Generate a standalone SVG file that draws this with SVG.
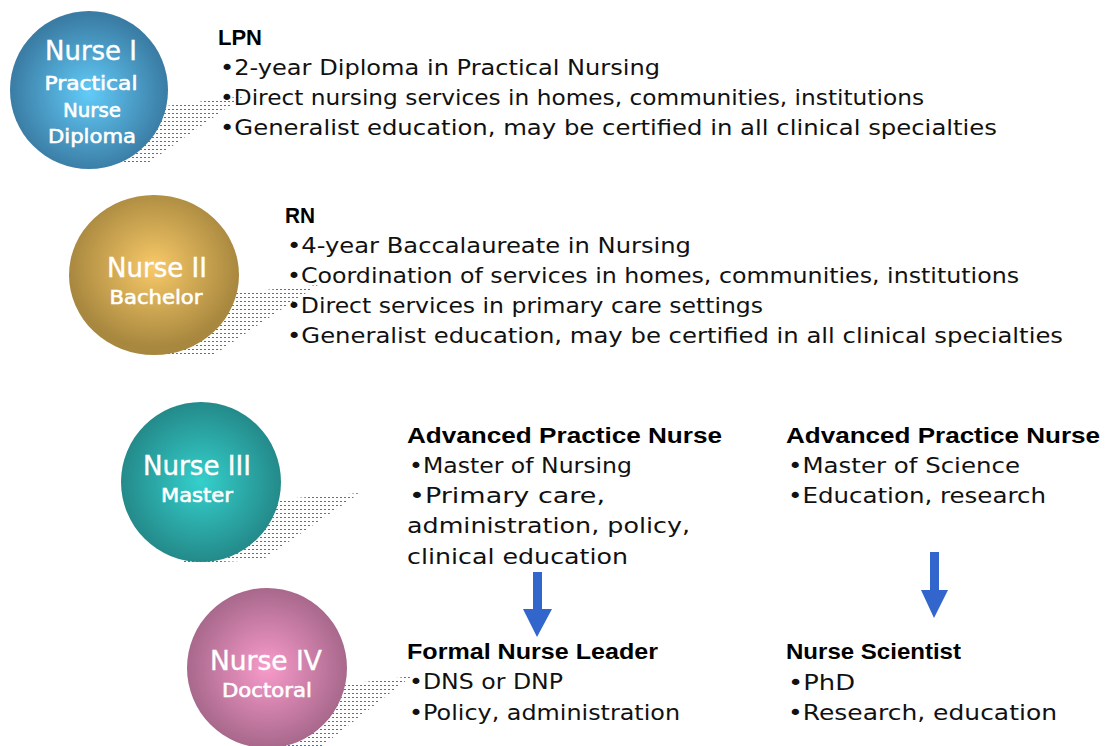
<svg xmlns="http://www.w3.org/2000/svg" width="1116" height="746" viewBox="0 0 1116 746">
<defs>
<radialGradient id="g1" cx="50%" cy="52%" r="50%"><stop offset="0" stop-color="#62cbf8"/><stop offset="1" stop-color="#3a7ca4"/></radialGradient>
<radialGradient id="g2" cx="50%" cy="45%" r="50%"><stop offset="0" stop-color="#f8c968"/><stop offset="1" stop-color="#a8883f"/></radialGradient>
<radialGradient id="g3" cx="50%" cy="50%" r="50%"><stop offset="0" stop-color="#34d0cc"/><stop offset="1" stop-color="#248a8a"/></radialGradient>
<radialGradient id="g4" cx="50%" cy="50%" r="50%"><stop offset="0" stop-color="#f89bca"/><stop offset="1" stop-color="#a8688c"/></radialGradient>
<pattern id="dots" x="0" y="0" width="4" height="4" patternUnits="userSpaceOnUse"><rect x="0" y="1" width="2" height="1" fill="#4a72b8"/></pattern>
</defs>
<style>
.dots{fill:url(#dots)}
.t1{font-family:"DejaVu Sans",sans-serif;font-size:27px;fill:#fff;text-anchor:middle;stroke:#fff;stroke-width:0.4}
.t2{font-family:"DejaVu Sans",sans-serif;font-size:20px;fill:#fff;text-anchor:middle;stroke:#fff;stroke-width:0.6}
.h{font-family:"Liberation Sans",Arial,sans-serif;font-weight:bold;font-size:22px;fill:#000}
.b{font-family:"DejaVu Sans",sans-serif;font-size:21px;fill:#111}
.arrow{fill:#3366cc}
</style>
<rect width="1116" height="746" fill="#fff"/>
<g id="nurse1">
<polygon class="dots" points="150,108 244,96 148,163 120,163"/>
<circle cx="89" cy="90" r="79" fill="url(#g1)"/>
<text class="t1" x="91" y="60" textLength="92" lengthAdjust="spacingAndGlyphs">Nurse I</text>
<text class="t2" x="91" y="90" textLength="93" lengthAdjust="spacingAndGlyphs">Practical</text>
<text class="t2" x="92" y="117" textLength="58" lengthAdjust="spacingAndGlyphs">Nurse</text>
<text class="t2" x="92" y="143" textLength="88" lengthAdjust="spacingAndGlyphs">Diploma</text>
<text class="h" x="218" y="45" textLength="44" lengthAdjust="spacingAndGlyphs">LPN</text>
<text class="b" x="220" y="75" textLength="440" lengthAdjust="spacingAndGlyphs">•2-year Diploma in Practical Nursing</text>
<text class="b" x="220" y="105" textLength="704" lengthAdjust="spacingAndGlyphs">•Direct nursing services in homes, communities, institutions</text>
<text class="b" x="220" y="135" textLength="777" lengthAdjust="spacingAndGlyphs">•Generalist education, may be certified in all clinical specialties</text>
</g>
<g id="nurse2">
<polygon class="dots" points="220,294 318,285 212,356 140,356"/>
<ellipse cx="154" cy="275" rx="85" ry="80" fill="url(#g2)"/>
<text class="t1" x="157" y="277" textLength="100" lengthAdjust="spacingAndGlyphs">Nurse II</text>
<text class="t2" x="156" y="304" textLength="93" lengthAdjust="spacingAndGlyphs">Bachelor</text>
<text class="h" x="285" y="223" textLength="30" lengthAdjust="spacingAndGlyphs">RN</text>
<text class="b" x="287" y="253" textLength="404" lengthAdjust="spacingAndGlyphs">•4-year Baccalaureate in Nursing</text>
<text class="b" x="287" y="283" textLength="732" lengthAdjust="spacingAndGlyphs">•Coordination of services in homes, communities, institutions</text>
<text class="b" x="287" y="313" textLength="476" lengthAdjust="spacingAndGlyphs">•Direct services in primary care settings</text>
<text class="b" x="287" y="343" textLength="776" lengthAdjust="spacingAndGlyphs">•Generalist education, may be certified in all clinical specialties</text>
</g>
<g id="nurse3">
<polygon class="dots" points="270,500 360,493 262,560 180,564"/>
<circle cx="201" cy="482" r="80" fill="url(#g3)"/>
<text class="t1" x="197" y="475" textLength="108" lengthAdjust="spacingAndGlyphs">Nurse III</text>
<text class="t2" x="197" y="502" textLength="72" lengthAdjust="spacingAndGlyphs">Master</text>
<text class="h" x="407" y="443" textLength="315" lengthAdjust="spacingAndGlyphs">Advanced Practice Nurse</text>
<text class="b" x="409" y="473" textLength="223" lengthAdjust="spacingAndGlyphs">•Master of Nursing</text>
<text class="b" x="409" y="503" textLength="196" lengthAdjust="spacingAndGlyphs">•Primary care,</text>
<text class="b" x="407" y="533" textLength="283" lengthAdjust="spacingAndGlyphs">administration, policy,</text>
<text class="b" x="407" y="564" textLength="221" lengthAdjust="spacingAndGlyphs">clinical education</text>
<text class="h" x="786" y="443" textLength="314" lengthAdjust="spacingAndGlyphs">Advanced Practice Nurse</text>
<text class="b" x="788" y="473" textLength="232" lengthAdjust="spacingAndGlyphs">•Master of Science</text>
<text class="b" x="788" y="503" textLength="258" lengthAdjust="spacingAndGlyphs">•Education, research</text>
</g>
<g id="nurse4">
<polygon class="dots" points="340,685 412,676 322,746 270,746"/>
<circle cx="267" cy="668" r="80" fill="url(#g4)"/>
<text class="t1" x="266" y="670" textLength="112" lengthAdjust="spacingAndGlyphs">Nurse IV</text>
<text class="t2" x="267" y="697" textLength="90" lengthAdjust="spacingAndGlyphs">Doctoral</text>
<text class="h" x="407" y="659" textLength="251" lengthAdjust="spacingAndGlyphs">Formal Nurse Leader</text>
<text class="b" x="409" y="689" textLength="154" lengthAdjust="spacingAndGlyphs">•DNS or DNP</text>
<text class="b" x="409" y="720" textLength="271" lengthAdjust="spacingAndGlyphs">•Policy, administration</text>
<text class="h" x="786" y="659" textLength="175" lengthAdjust="spacingAndGlyphs">Nurse Scientist</text>
<text class="b" x="788" y="690" textLength="67" lengthAdjust="spacingAndGlyphs">•PhD</text>
<text class="b" x="788" y="720" textLength="269" lengthAdjust="spacingAndGlyphs">•Research, education</text>
</g>
<g id="connectors">
<polygon class="arrow" points="533,572 542,572 542,609 552,609 537,637 523,609 533,609"/>
<polygon class="arrow" points="930,552 939,552 939,590 948,590 934,618 921,590 930,590"/>
</g>
</svg>
